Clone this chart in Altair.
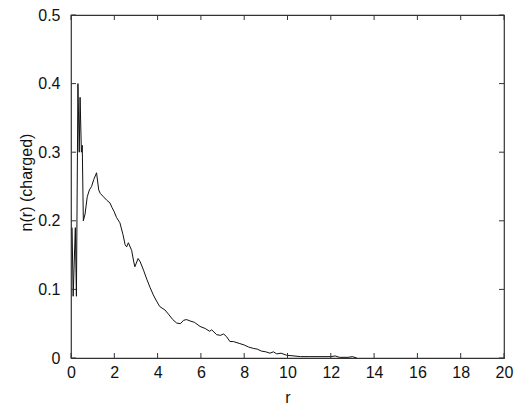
import altair as alt
import pandas as pd

r_vals = [0.05, 0.1, 0.2, 0.25, 0.32, 0.38, 0.42, 0.48, 0.52, 0.57, 0.65, 0.75, 0.85, 0.95,
          1.05, 1.18, 1.28, 1.35, 1.5, 1.65, 1.8, 1.9, 2.0, 2.1, 2.26, 2.4, 2.5, 2.57, 2.65,
          2.8, 2.9, 2.95, 3.1, 3.2, 3.35, 3.5, 3.65, 3.8, 3.95, 4.1, 4.34, 4.5, 4.7, 4.88,
          5.05, 5.2, 5.34, 5.5, 5.7, 5.96, 6.2, 6.4, 6.5, 6.73, 6.9, 7.05, 7.19, 7.34, 7.5,
          7.8, 8.0, 8.2, 8.42, 8.6, 8.8, 9.0, 9.19, 9.35, 9.5, 9.7, 9.96, 10.3, 10.6, 11.0,
          11.5, 12.0, 12.2, 12.4, 12.8, 13.0, 13.2]
n_vals = [0.19, 0.09, 0.19, 0.09, 0.40, 0.30, 0.38, 0.30, 0.31, 0.20, 0.21, 0.235, 0.245, 0.25,
          0.26, 0.27, 0.245, 0.24, 0.235, 0.23, 0.226, 0.219, 0.213, 0.205, 0.197, 0.18, 0.165,
          0.162, 0.168, 0.157, 0.14, 0.133, 0.145, 0.14, 0.128, 0.115, 0.103, 0.092, 0.083,
          0.075, 0.07, 0.064, 0.056, 0.051, 0.05, 0.055, 0.056, 0.054, 0.052, 0.046, 0.043,
          0.039, 0.041, 0.034, 0.033, 0.035, 0.031, 0.024, 0.024, 0.021, 0.019, 0.016, 0.014,
          0.013, 0.01, 0.009, 0.007, 0.009, 0.006, 0.007, 0.004, 0.003, 0.002, 0.002, 0.002,
          0.002, 0.003, 0.001, 0.001, 0.002, 0.0]

x_ticks = [0, 2, 4, 6, 8, 10, 12, 14, 16, 18, 20]
y_ticks = [0, 0.1, 0.2, 0.3, 0.4, 0.5]

W, H = 433, 343
TL = 5
FONT = "Liberation Sans"

df = pd.DataFrame({"r": r_vals, "n": n_vals})
xt = pd.DataFrame({"v": x_ticks})
yt = pd.DataFrame({"v": y_ticks})

xscale = alt.Scale(domain=[0, 20], nice=False, zero=False)
yscale = alt.Scale(domain=[0, 0.5], nice=False, zero=False)

line = alt.Chart(df).mark_line(color="#111111", strokeWidth=1, interpolate="linear").encode(
    x=alt.X("r:Q", scale=xscale,
            axis=alt.Axis(values=x_ticks, title="r", tickSize=0, domain=False, grid=False,
                          labelFont=FONT, labelFontSize=16, labelColor="#111111",
                          labelPadding=6, labelFlush=False,
                          titleFont=FONT, titleFontSize=16, titleFontWeight="normal",
                          titleColor="#111111", titleY=44, titleBaseline="alphabetic")),
    y=alt.Y("n:Q", scale=yscale,
            axis=alt.Axis(values=y_ticks, title="n(r) (charged)", tickSize=0, domain=False,
                          grid=False, format="~g", labelFont=FONT, labelFontSize=16,
                          labelColor="#111111", labelPadding=11, labelFlush=False,
                          titleFont=FONT, titleFontSize=16, titleFontWeight="normal",
                          titleColor="#111111", titleX=-40, titleY=167,
                          titleBaseline="alphabetic", titleAlign="center", titleAngle=-90)),
)

tick_color = "#333333"
bottom = alt.Chart(xt).mark_rule(color=tick_color, strokeWidth=1).encode(
    x=alt.X("v:Q", scale=xscale), y=alt.value(H), y2=alt.value(H - TL))
top = alt.Chart(xt).mark_rule(color=tick_color, strokeWidth=1).encode(
    x=alt.X("v:Q", scale=xscale), y=alt.value(0), y2=alt.value(TL))
left = alt.Chart(yt).mark_rule(color=tick_color, strokeWidth=1).encode(
    y=alt.Y("v:Q", scale=yscale), x=alt.value(0), x2=alt.value(TL))
right = alt.Chart(yt).mark_rule(color=tick_color, strokeWidth=1).encode(
    y=alt.Y("v:Q", scale=yscale), x=alt.value(W), x2=alt.value(W - TL))

chart = alt.layer(line, bottom, top, left, right).properties(
    width=W, height=H,
    autosize=alt.AutoSizeParams(type="none"),
    padding={"left": 71, "top": 15, "right": 15, "bottom": 46},
    background="white",
).configure_view(stroke="#333333", strokeWidth=1.2)

chart.save("out.html", embed_options={"renderer": "svg", "actions": False})
